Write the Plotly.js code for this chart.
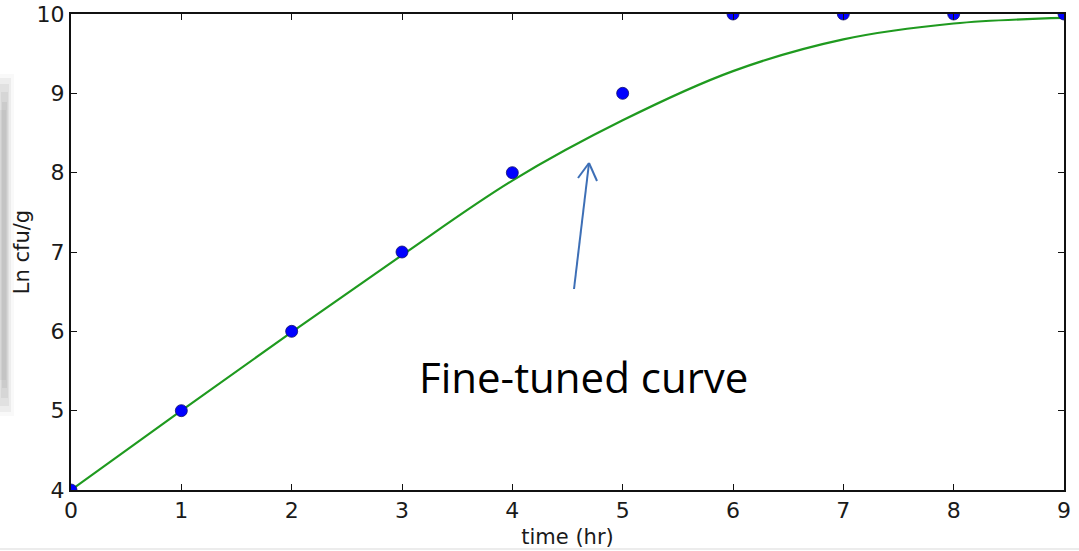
<!DOCTYPE html>
<html>
<head>
<meta charset="utf-8">
<script src="https://cdn.plot.ly/plotly-3.0.1.min.js"></script>
<style>html,body{margin:0;padding:0;background:#fff;}#chart{width:1079px;height:551px;}</style>
</head>
<body>
<div id="chart"></div>
<script>
// Observed data (time in hr, Ln cfu/g)
const timeHr = [0, 1, 2, 3, 4, 5, 6, 7, 8, 9];
const lnCfu = [4, 5, 6, 7, 8, 9, 10, 10, 10, 10];
// Fine-tuned fitted curve
const fitTime = [0, 1, 2, 3, 4, 5, 6, 7, 8, 9];
const fitLnCfu = [4.00, 5.00, 5.99, 6.96, 7.90, 8.66, 9.28, 9.68, 9.88, 9.95];
const xTicks = [0, 1, 2, 3, 4, 5, 6, 7, 8, 9];
const yTicks = [4, 5, 6, 7, 8, 9, 10];

const tickFont = {family: 'DejaVu Sans, sans-serif', size: 22, color: '#1a1a1a'};
const titleFont = {family: 'DejaVu Sans, sans-serif', size: 21, color: '#1a1a1a'};

const traces = [
  {
    x: fitTime, y: fitLnCfu, type: 'scatter', mode: 'lines',
    line: {color: '#1f9a1f', width: 2.2, shape: 'spline', smoothing: 1},
    hoverinfo: 'skip', showlegend: false
  },
  {
    x: timeHr, y: lnCfu, type: 'scatter', mode: 'markers',
    marker: {color: '#0000ff', size: 12, line: {color: '#10106a', width: 0.8}},
    showlegend: false, cliponaxis: true
  }
];

const X = (px) => (px - 71) / 993 * 9;       // helper for annotation placement (pixel -> x)
const Y = (py) => 10 - (py - 14) / 476 * 6;  // helper for annotation placement (pixel -> y)
const PX = (px) => (px - 71) / 993;          // pixel -> paper x
const PY = (py) => (490 - py) / 476;         // pixel -> paper y
const arrowColor = '#3d6fb6';

const shadow = [];
[[0, 11, 78, 412, 0.07], [0, 9, 84, 406, 0.08], [1, 8, 92, 398, 0.08], [2, 7, 102, 388, 0.08],
 [0, 14, 74, 416, 0.04], [0, 6, 110, 380, 0.06]].forEach(function (s) {
  shadow.push({type: 'rect', xref: 'paper', yref: 'paper', x0: PX(s[0]), x1: PX(s[1]), y0: PY(s[3]), y1: PY(s[2]),
    fillcolor: 'rgba(90,90,90,' + s[4] + ')', line: {width: 0}, layer: 'below'});
});

const layout = {
  width: 1079, height: 551,
  margin: {l: 71, r: 15, t: 14, b: 61, pad: 0},
  paper_bgcolor: '#ffffff', plot_bgcolor: '#ffffff',
  showlegend: false,
  xaxis: {
    range: [0, 9], tickvals: xTicks, ticktext: xTicks.map(String),
    showgrid: false, zeroline: false, showline: true, mirror: 'ticks',
    linecolor: '#111', linewidth: 2, ticks: 'inside', ticklen: 6, tickwidth: 1, tickcolor: '#111',
    tickfont: tickFont, automargin: false,
    title: {text: 'time (hr)', font: titleFont, standoff: 7}
  },
  yaxis: {
    range: [4, 10], tickvals: yTicks, ticktext: yTicks.map(String),
    showgrid: false, zeroline: false, showline: true, mirror: 'ticks',
    linecolor: '#111', linewidth: 2, ticks: 'inside', ticklen: 6, tickwidth: 1, tickcolor: '#111',
    tickfont: tickFont, automargin: false,
    title: {text: 'Ln cfu/g', font: titleFont, standoff: 1}
  },
  annotations: [
    {
      x: X(583), y: Y(376), xref: 'x', yref: 'y', text: 'Fine-tuned curve',
      showarrow: false, xanchor: 'center', yanchor: 'middle',
      font: {family: 'Open Sans, sans-serif', size: 42, color: '#000'}
    }
  ],
  shapes: shadow.concat([
    // arrow shaft and open head
    {type: 'line', xref: 'x', yref: 'y', x0: X(574), y0: Y(289), x1: X(589), y1: Y(163), line: {color: arrowColor, width: 2}},
    {type: 'line', xref: 'x', yref: 'y', x0: X(578), y0: Y(178), x1: X(589), y1: Y(163), line: {color: arrowColor, width: 2}},
    {type: 'line', xref: 'x', yref: 'y', x0: X(597), y0: Y(181), x1: X(589), y1: Y(163), line: {color: arrowColor, width: 2}},
    // faint bottom line
    {type: 'line', xref: 'paper', yref: 'paper', x0: PX(0), x1: PX(1079), y0: PY(549), y1: PY(549), line: {color: '#ececec', width: 2}}
  ])
};

Plotly.newPlot('chart', traces, layout, {displayModeBar: false, staticPlot: true});
</script>
</body>
</html>
